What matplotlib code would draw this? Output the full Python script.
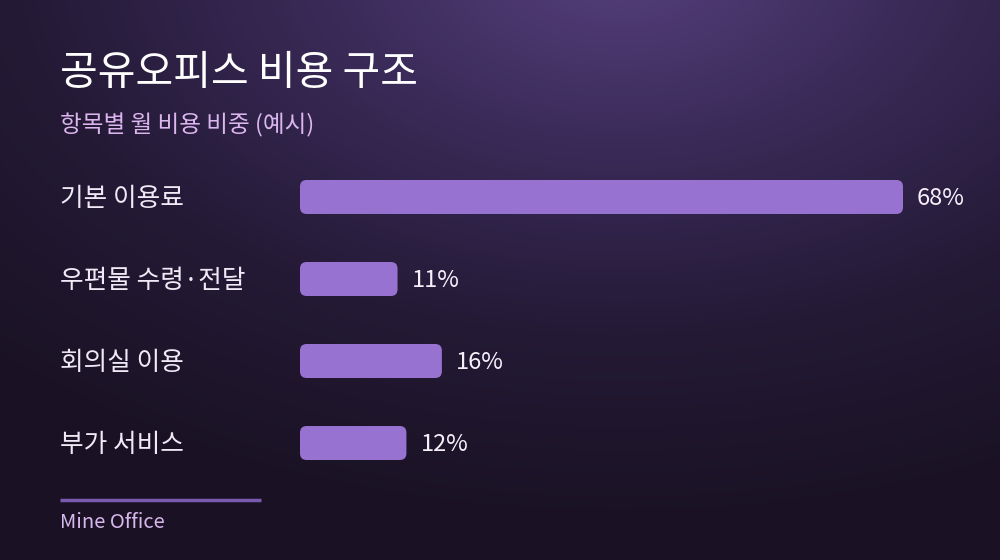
import numpy as np
import matplotlib
matplotlib.use('Agg')
import matplotlib.pyplot as plt
from matplotlib.patches import FancyBboxPatch
from matplotlib.colors import LinearSegmentedColormap
import matplotlib.transforms as mtransforms

plt.rcParams['font.family'] = ['Noto Sans CJK KR', 'DejaVu Sans']

categories = ['기본 이용료', '우편물 수령·전달', '회의실 이용', '부가 서비스']
shares = [68, 11, 16, 12]
value_labels = ['68%', '11%', '16%', '12%']

title = '공유오피스 비용 구조'
subtitle = '항목별 월 비용 비중 (예시)'
footer = 'Mine Office'

W, H = 1000, 560
fig = plt.figure(figsize=(W / 100, H / 100), dpi=100)

# background: radial glow near the top centre
bg = fig.add_axes([0, 0, 1, 1])
bg.set_axis_off()
yy, xx = np.mgrid[0:H, 0:W]
d = np.sqrt(((xx - 620) / 900.0) ** 2 + ((yy + 40) / 560.0) ** 2)
d = np.clip(d, 0, 1)
cmap = LinearSegmentedColormap.from_list('bg', ['#56407c', '#3a2a58', '#241a36', '#1a1224'])
bg.imshow(d, cmap=cmap, extent=[0, W, H, 0], aspect='auto', vmin=0, vmax=1)
bg.set_xlim(0, W)
bg.set_ylim(H, 0)

# bar axes
px_per_pct = 603 / 68.0
ax = fig.add_axes([300 / W, 80 / H, 700 / W, 320 / H])
ax.set_axis_off()
ax.set_xlim(0, 700 / px_per_pct)
ax.set_ylim(3.451, -0.451)

bar_h = 34 / 82.0
bars = ax.barh(range(len(categories)), shares, height=bar_h, color='none')
aspect = (1 / 82.0) / (1 / px_per_pct)
for b, lab in zip(bars, value_labels):
    x, y = b.get_x(), b.get_y()
    w, h = b.get_width(), b.get_height()
    ax.add_patch(FancyBboxPatch((x, y), w, h,
                                boxstyle='round,pad=0,rounding_size=0.75',
                                mutation_aspect=aspect,
                                facecolor='#9872d0', edgecolor='none'))
    ax.text(w + 14 / px_per_pct, y + h / 2 + 0.02, lab, color='#f6f0fb',
            fontsize=17, va='center', ha='left')

trans = mtransforms.blended_transform_factory(fig.transFigure, ax.transData)
for i, c in enumerate(categories):
    ax.text(60 / W, i + 0.02, c, transform=trans, color='#f0eaf6',
            fontsize=18.5, va='center', ha='left')

fig.text(60 / W, 1 - 73 / H, title, color='white', fontsize=29.5,
         va='center', ha='left')
fig.text(60 / W, 1 - 125 / H, subtitle, color='#dcb6ee', fontsize=17,
         va='center', ha='left')

bg.plot([60, 261], [500, 500], color='#7a5aae', lw=2.5, solid_capstyle='butt')
fig.text(60 / W, 1 - 523 / H, footer, color='#d8b8ec', fontsize=14.5,
         va='center', ha='left')

fig.savefig('out.png', dpi=100)
